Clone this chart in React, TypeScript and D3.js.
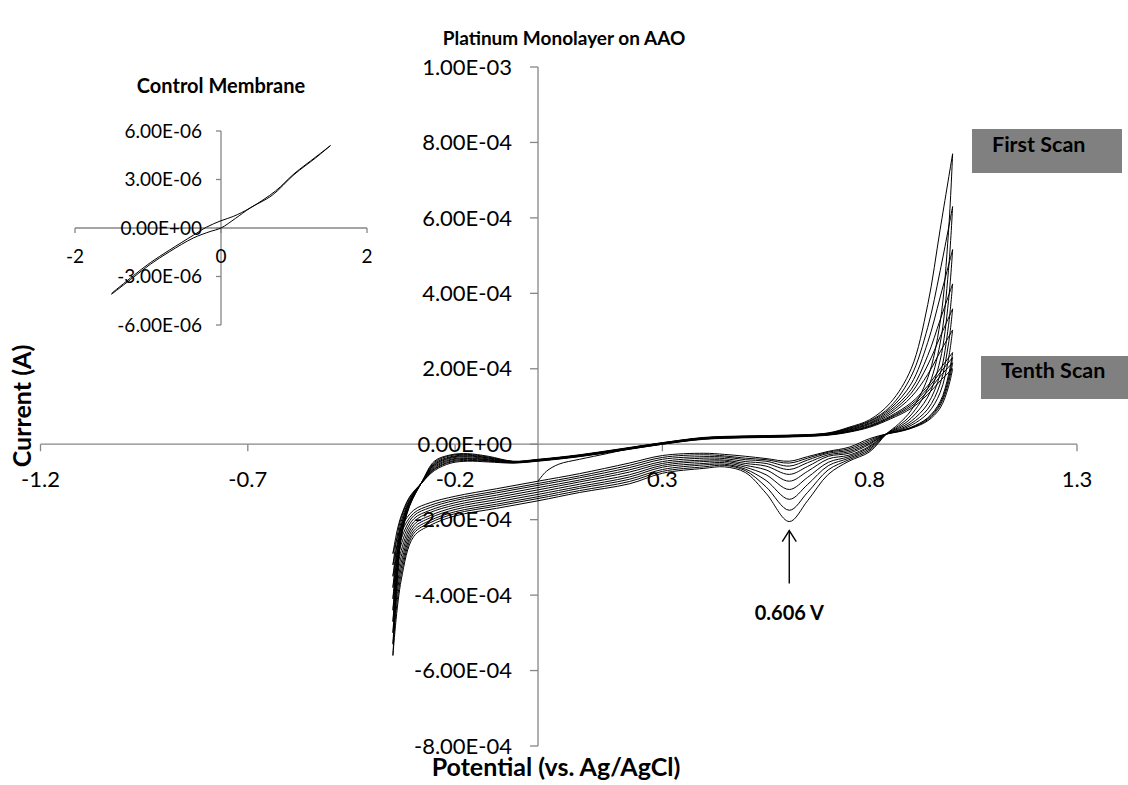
import React from 'react';
import * as d3 from 'd3';

const W = 1128;
const H = 785;
const FONT = "Lato, 'Open Sans', sans-serif";
const AXIS = '#868686';

// Main chart: potentials (V vs Ag/AgCl) of the anodic and cathodic sweeps
const anodicPotential = [-0.35, -0.34, -0.33, -0.31, -0.28, -0.25, -0.21, -0.17, -0.12, -0.06, 0, 0.1, 0.2, 0.3, 0.4, 0.5, 0.6, 0.7, 0.75, 0.8, 0.85, 0.9, 0.94, 0.97, 1.0];
const cathodicPotential = [1.0, 0.99, 0.97, 0.94, 0.9, 0.87, 0.84, 0.8, 0.75, 0.7, 0.65, 0.606, 0.55, 0.5, 0.45, 0.4, 0.3, 0.22, 0.1, 0, -0.1, -0.2, -0.26, -0.3, -0.33, -0.35];

// currents in units of 1e-4 A, first scan to tenth scan
const anodicCurrent = [
  [-5.6, -3.7, -2.5, -1.65, -1.0, -0.45, -0.28, -0.25, -0.32, -0.45, -0.4, -0.28, -0.12, 0.04, 0.18, 0.22, 0.24, 0.3, 0.45, 0.65, 1.1, 2.0, 3.7, 5.7, 7.7],
  [-5.3, -3.55, -2.45, -1.63, -1.0, -0.48, -0.3, -0.27, -0.34, -0.46, -0.41, -0.29, -0.13, 0.04, 0.17, 0.21, 0.23, 0.29, 0.43, 0.62, 1.0, 1.8, 3.1, 4.6, 6.3],
  [-5.0, -3.4, -2.4, -1.6, -1.0, -0.51, -0.33, -0.29, -0.36, -0.46, -0.41, -0.29, -0.13, 0.03, 0.17, 0.21, 0.23, 0.29, 0.42, 0.6, 0.95, 1.6, 2.7, 3.9, 5.16],
  [-4.7, -3.25, -2.35, -1.58, -1.0, -0.54, -0.35, -0.31, -0.37, -0.47, -0.42, -0.3, -0.14, 0.03, 0.16, 0.2, 0.22, 0.28, 0.4, 0.57, 0.9, 1.45, 2.35, 3.3, 4.25],
  [-4.4, -3.1, -2.3, -1.55, -1.01, -0.56, -0.37, -0.33, -0.39, -0.47, -0.42, -0.3, -0.14, 0.02, 0.16, 0.2, 0.22, 0.27, 0.38, 0.55, 0.85, 1.35, 2.1, 2.85, 3.59],
  [-4.1, -2.95, -2.2, -1.52, -1.01, -0.59, -0.4, -0.36, -0.41, -0.48, -0.43, -0.31, -0.15, 0.02, 0.15, 0.19, 0.21, 0.27, 0.37, 0.53, 0.8, 1.25, 1.85, 2.45, 3.03],
  [-3.8, -2.8, -2.15, -1.5, -1.01, -0.62, -0.42, -0.38, -0.42, -0.48, -0.43, -0.31, -0.15, 0.01, 0.15, 0.19, 0.21, 0.26, 0.35, 0.5, 0.75, 1.1, 1.55, 2.0, 2.43],
  [-3.5, -2.65, -2.05, -1.47, -1.02, -0.65, -0.45, -0.4, -0.44, -0.49, -0.44, -0.32, -0.16, 0.01, 0.14, 0.18, 0.2, 0.25, 0.34, 0.48, 0.72, 1.05, 1.48, 1.9, 2.3],
  [-3.2, -2.45, -1.95, -1.43, -1.02, -0.67, -0.47, -0.43, -0.45, -0.49, -0.44, -0.32, -0.16, 0.0, 0.14, 0.18, 0.2, 0.25, 0.33, 0.47, 0.7, 1.0, 1.4, 1.8, 2.16],
  [-2.9, -2.3, -1.9, -1.4, -1.02, -0.7, -0.5, -0.45, -0.47, -0.5, -0.45, -0.33, -0.17, 0.0, 0.13, 0.17, 0.19, 0.24, 0.32, 0.45, 0.67, 0.95, 1.32, 1.68, 2.0],
];

const cathodicCurrent = [
  [7.7, 5.62, 3.24, 1.76, 0.9, 0.54, 0.27, -0.2, -0.45, -0.8, -1.5, -2.05, -1.3, -0.75, -0.6, -0.64, -0.77, -1.05, -1.28, -1.5, -1.7, -1.9, -2.15, -2.45, -3.6, -5.6],
  [6.3, 4.61, 2.68, 1.48, 0.78, 0.49, 0.27, -0.16, -0.41, -0.68, -1.28, -1.75, -1.13, -0.7, -0.56, -0.6, -0.72, -0.99, -1.23, -1.44, -1.64, -1.84, -2.08, -2.37, -3.45, -5.3],
  [5.16, 3.79, 2.23, 1.25, 0.69, 0.45, 0.27, -0.12, -0.37, -0.57, -1.07, -1.46, -0.96, -0.66, -0.53, -0.55, -0.67, -0.93, -1.17, -1.39, -1.59, -1.79, -2.02, -2.3, -3.29, -5.0],
  [4.25, 3.14, 1.86, 1.07, 0.61, 0.42, 0.27, -0.08, -0.33, -0.48, -0.88, -1.2, -0.81, -0.61, -0.49, -0.51, -0.61, -0.87, -1.12, -1.33, -1.53, -1.73, -1.95, -2.22, -3.14, -4.7],
  [3.59, 2.66, 1.6, 0.93, 0.55, 0.39, 0.27, -0.05, -0.29, -0.39, -0.72, -0.98, -0.68, -0.56, -0.45, -0.46, -0.56, -0.81, -1.06, -1.27, -1.47, -1.67, -1.89, -2.14, -2.98, -4.4],
  [3.03, 2.26, 1.37, 0.82, 0.5, 0.37, 0.27, 0.0, -0.24, -0.32, -0.59, -0.8, -0.58, -0.51, -0.42, -0.42, -0.51, -0.74, -1.0, -1.21, -1.41, -1.61, -1.81, -2.06, -2.82, -4.1],
  [2.43, 1.83, 1.13, 0.7, 0.45, 0.35, 0.27, 0.03, -0.2, -0.28, -0.49, -0.67, -0.51, -0.46, -0.38, -0.37, -0.46, -0.68, -0.95, -1.15, -1.35, -1.55, -1.75, -1.98, -2.66, -3.8],
  [2.3, 1.73, 1.08, 0.68, 0.44, 0.35, 0.27, 0.07, -0.16, -0.24, -0.42, -0.58, -0.45, -0.41, -0.34, -0.33, -0.4, -0.62, -0.89, -1.09, -1.29, -1.49, -1.68, -1.9, -2.51, -3.5],
  [2.16, 1.63, 1.03, 0.65, 0.43, 0.34, 0.27, 0.11, -0.12, -0.21, -0.37, -0.5, -0.41, -0.37, -0.31, -0.28, -0.35, -0.56, -0.84, -1.04, -1.24, -1.44, -1.62, -1.83, -2.35, -3.2],
  [2.0, 1.52, 0.96, 0.62, 0.42, 0.33, 0.27, 0.15, -0.08, -0.19, -0.33, -0.45, -0.38, -0.32, -0.27, -0.24, -0.3, -0.5, -0.78, -0.98, -1.18, -1.38, -1.55, -1.75, -2.2, -2.9],
];

// start of the first scan (from open circuit at 0 V)
const startPotential = [0, 0.02, 0.05, 0.1, 0.17, 0.25];
const startCurrent = [-0.98, -0.72, -0.53, -0.4, -0.24, -0.04];

const xTicks = [-1.2, -0.7, -0.2, 0.3, 0.8, 1.3];
const xTickLabels = ['-1.2', '-0.7', '-0.2', '0.3', '0.8', '1.3'];
const yTicks = [1e-3, 8e-4, 6e-4, 4e-4, 2e-4, 0, -2e-4, -4e-4, -6e-4, -8e-4];
const yTickLabels = ['1.00E-03', '8.00E-04', '6.00E-04', '4.00E-04', '2.00E-04', '0.00E+00', '-2.00E-04', '-4.00E-04', '-6.00E-04', '-8.00E-04'];

// Inset: control membrane (current in units of 1e-6 A)
const insetForwardPotential = [-1.5, -1.2, -0.97, -0.7, -0.38, -0.15, 0, 0.2, 0.4, 0.7, 1.0, 1.3, 1.5];
const insetForwardCurrent = [-4.1, -3.05, -2.25, -1.45, -0.62, -0.22, 0, 0.6, 1.24, 2.02, 3.3, 4.35, 5.1];
const insetReversePotential = [1.5, 1.3, 1.0, 0.75, 0.4, 0.17, 0, -0.2, -0.38, -0.7, -0.97, -1.2, -1.5];
const insetReverseCurrent = [5.1, 4.4, 3.35, 2.3, 1.24, 0.72, 0.45, 0.05, -0.45, -1.35, -2.15, -2.95, -4.05];

const insetXTicks = [-2, 0, 2];
const insetXTickLabels = ['-2', '0', '2'];
const insetYTicks = [6e-6, 3e-6, 0, -3e-6, -6e-6];
const insetYTickLabels = ['6.00E-06', '3.00E-06', '0.00E+00', '-3.00E-06', '-6.00E-06'];

const PEAK_POTENTIAL = 0.606;

export default function App() {
  const x = d3.scaleLinear().domain([-1.2, 1.3]).range([40.5, 1077]);
  const y = d3.scaleLinear().domain([-8e-4, 1e-3]).range([746, 67]);
  const ix = d3.scaleLinear().domain([-2, 2]).range([75, 367]);
  const iy = d3.scaleLinear().domain([-6e-6, 6e-6]).range([325, 131]);

  const line = d3.line<[number, number]>()
    .x(d => x(d[0]))
    .y(d => y(d[1] * 1e-4))
    .curve(d3.curveCatmullRom.alpha(0.5));

  const insetLine = d3.line<[number, number]>()
    .x(d => ix(d[0]))
    .y(d => iy(d[1] * 1e-6))
    .curve(d3.curveCatmullRom.alpha(0.5));

  const zip = (a: number[], b: number[]) => a.map((v, i) => [v, b[i]] as [number, number]);

  const x0 = x(0);
  const y0 = y(0);
  const ix0 = ix(0);
  const iy0 = iy(0);

  // arrow points up at the deepest reduction peak
  const peakY = y(d3.min(cathodicCurrent, s => s[cathodicPotential.indexOf(PEAK_POTENTIAL)])! * 1e-4);
  const arrowX = x(PEAK_POTENTIAL);
  const arrowTop = peakY + 9;

  return (
    <svg width={W} height={H} style={{ position: 'absolute', left: 0, top: 0, background: '#fff' }} fontFamily={FONT}>
      {/* title */}
      <text x={564} y={45} textAnchor="middle" fontWeight="bold" fontSize={19}>Platinum Monolayer on AAO</text>

      {/* main axes */}
      <g stroke={AXIS} strokeWidth={1.3} fill="none">
        <line x1={x(-1.2)} x2={x(1.3)} y1={y0} y2={y0} />
        <line x1={x0} x2={x0} y1={y(-8e-4)} y2={y(1e-3)} />
        {xTicks.map(t => <line key={t} x1={x(t)} x2={x(t)} y1={y0} y2={y0 + 7} />)}
        {yTicks.map(t => <line key={t} x1={x0 - 8} x2={x0} y1={y(t)} y2={y(t)} />)}
      </g>
      <g fontSize={22} fill="#000">
        {xTicks.map((t, i) => <text key={t} x={x(t)} y={y0 + 43} textAnchor="middle">{xTickLabels[i]}</text>)}
        {yTicks.map((t, i) => <text key={t} x={x0 - 26} y={y(t)} dy="0.35em" textAnchor="end">{yTickLabels[i]}</text>)}
      </g>

      {/* axis titles */}
      <text transform="translate(31,406) rotate(-90)" textAnchor="middle" fontWeight="bold" fontSize={25}>Current (A)</text>
      <text x={556} y={776} textAnchor="middle" fontWeight="bold" fontSize={25}>Potential (vs. Ag/AgCl)</text>

      {/* scans */}
      <g fill="none" stroke="#000" strokeWidth={1}>
        {anodicCurrent.map((s, i) => <path key={'a' + i} d={line(zip(anodicPotential, s))!} />)}
        {cathodicCurrent.map((s, i) => <path key={'c' + i} d={line(zip(cathodicPotential, s))!} />)}
        <path d={line(zip(startPotential, startCurrent))!} />
      </g>

      {/* peak arrow */}
      <g stroke="#000" strokeWidth={1.4} fill="none">
        <line x1={arrowX} x2={arrowX} y1={arrowTop} y2={arrowTop + 53} />
        <polyline points={`${arrowX - 7},${arrowTop + 11} ${arrowX},${arrowTop} ${arrowX + 7},${arrowTop + 11}`} />
      </g>
      <text x={arrowX} y={arrowTop + 89} textAnchor="middle" fontWeight="bold" fontSize={20}>0.606 V</text>

      {/* scan labels */}
      <rect x={972} y={129} width={150} height={44} fill="#808080" />
      <text x={992} y={152} fontWeight="bold" fontSize={21.5}>First Scan</text>
      <rect x={981} y={356} width={147} height={43} fill="#808080" />
      <text x={1001} y={378} fontWeight="bold" fontSize={21.5}>Tenth Scan</text>

      {/* inset */}
      <text x={221} y={93} textAnchor="middle" fontWeight="bold" fontSize={20}>Control Membrane</text>
      <g stroke={AXIS} strokeWidth={1.3} fill="none">
        <line x1={ix(-2)} x2={ix(2)} y1={iy0} y2={iy0} />
        <line x1={ix0} x2={ix0} y1={iy(-6e-6)} y2={iy(6e-6)} />
        {insetXTicks.map(t => <line key={t} x1={ix(t)} x2={ix(t)} y1={iy0} y2={iy0 + 5} />)}
        {insetYTicks.map(t => <line key={t} x1={ix0 - 5} x2={ix0} y1={iy(t)} y2={iy(t)} />)}
      </g>
      <g fontSize={19} fill="#000">
        {insetXTicks.map((t, i) => <text key={t} x={ix(t)} y={iy0 + 35} textAnchor="middle">{insetXTickLabels[i]}</text>)}
        {insetYTicks.map((t, i) => <text key={t} x={ix0 - 19} y={iy(t)} dy="0.35em" textAnchor="end">{insetYTickLabels[i]}</text>)}
      </g>
      <g fill="none" stroke="#000" strokeWidth={1}>
        <path d={insetLine(zip(insetForwardPotential, insetForwardCurrent))!} />
        <path d={insetLine(zip(insetReversePotential, insetReverseCurrent))!} />
      </g>
    </svg>
  );
}
